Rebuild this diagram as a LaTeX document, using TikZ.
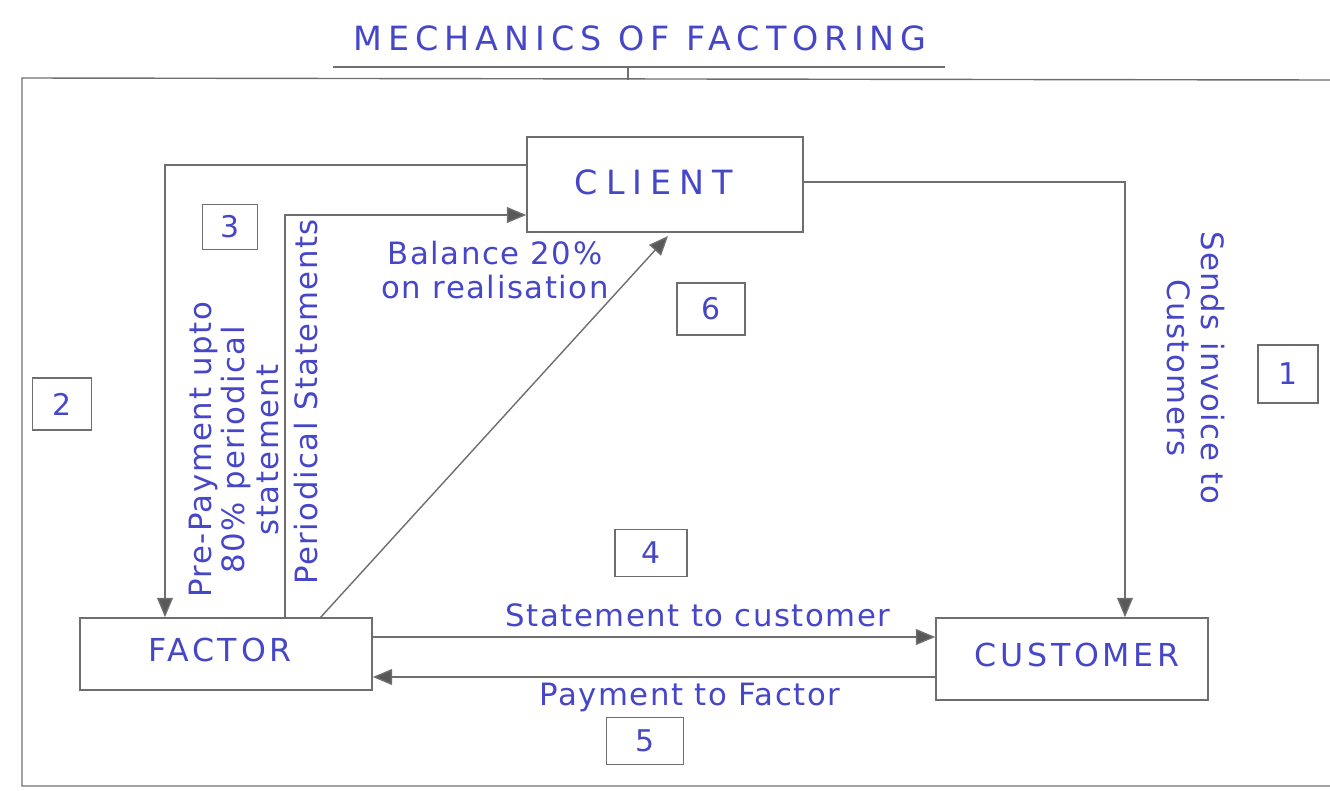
\documentclass[tikz,border=0pt]{standalone}
\usepackage{fontspec}
\setmainfont{DejaVu Sans}
\usetikzlibrary{arrows.meta}
\definecolor{ink}{RGB}{70,70,200}
\definecolor{pencil}{RGB}{110,110,110}
\tikzset{
  bigbox/.style={draw=pencil, line width=0.9pt, inner sep=0pt},
  numbox/.style={draw=pencil, line width=0.8pt, text=ink, font=\fontsize{17}{20}\selectfont, inner sep=0pt},
  conn/.style={draw=pencil, line width=0.8pt, -{Triangle[length=11pt,width=9pt,fill=gray!70!black]}},
  lbl/.style={text=ink, font=\fontsize{17.5}{19}\selectfont\addfontfeature{LetterSpace=5}, inner sep=0pt, align=center},
  boxtext/.style={text=ink, font=\fontsize{18}{21}\selectfont\addfontfeature{LetterSpace=12}}
}
\begin{document}
\begin{tikzpicture}[x=0.02cm,y=-0.02cm]
\useasboundingbox (0,0) rectangle (1330,791);
% title
\node[text=ink, font=\fontsize{19}{22}\selectfont\addfontfeature{LetterSpace=18}] (title) at (640,38) {MECHANICS OF FACTORING};
\draw[pencil, line width=1.1pt] (333,67) -- (945,67);
\draw[pencil, line width=0.6pt] (628,67) -- (628,80);
% outer frame
\draw[pencil, line width=0.8pt] (1330,80) -- (22,78) -- (22,786) -- (1330,786);
% main boxes
\node[bigbox, minimum width=5.52cm, minimum height=1.9cm] (client) at (665,184.5) {};
\node[boxtext, font=\fontsize{19}{21}\selectfont\addfontfeature{LetterSpace=24}] (clientt) at (654,182) {CLIENT};
\node[bigbox, minimum width=5.84cm, minimum height=1.44cm] (factor) at (226,654) {};
\node[boxtext] (factort) at (220,650) {FACTOR};
\node[bigbox, minimum width=5.44cm, minimum height=1.64cm] (customer) at (1072,659) {};
\node[boxtext] (customert) at (1077,655) {CUSTOMER};
% number boxes
\node[numbox, minimum width=1.10cm, minimum height=0.90cm] (n3) at (230,227) {3};
\node[numbox, minimum width=1.36cm, minimum height=1.04cm] (n6) at (711,309) {6};
\node[numbox, minimum width=1.18cm, minimum height=1.04cm] (n2) at (62,404) {2};
\node[numbox, minimum width=1.20cm, minimum height=1.16cm] (n1) at (1288,374) {1};
\node[numbox, minimum width=1.44cm, minimum height=0.94cm] (n4) at (651,553) {4};
\node[numbox, minimum width=1.54cm, minimum height=0.94cm] (n5) at (645,741) {5};
% helper coordinates
\coordinate (c1) at (165,165);
\coordinate (c2) at (285,215);
\coordinate (c3) at (1125,182);
\coordinate (c4) at (320,618);
\coordinate (c5) at (668,236);
\coordinate (c6) at (0,637);
\coordinate (c7) at (0,677);
% connectors
\draw[conn] (client.west |- c1) -- (c1) -- (factor.north -| c1);
\draw[conn] (factor.north -| c2) -- (c2) -- (client.west |- c2);
\draw[conn] (client.east |- c3) -- (c3) -- (customer.north -| c3);
\draw[conn] (c4) -- (c5);
\draw[conn] (factor.east |- c6) -- (customer.west |- c6);
\draw[conn] (customer.west |- c7) -- (factor.east |- c7);
% labels
\node[lbl, rotate=90] (l1) at (234,450) {Pre-Payment upto\\80\% periodical\\statement};
\node[lbl, rotate=90] (l2) at (306,402) {Periodical Statements};
\node[lbl, rotate=-90] (l3) at (1196,368) {Sends invoice to\\Customers};
\node[lbl] (l4) at (495,270) {Balance 20\%\\on realisation};
\node[lbl] (l5) at (698,615) {Statement to customer};
\node[lbl] (l6) at (690,697) {Payment to Factor};
\end{tikzpicture}
\end{document}
